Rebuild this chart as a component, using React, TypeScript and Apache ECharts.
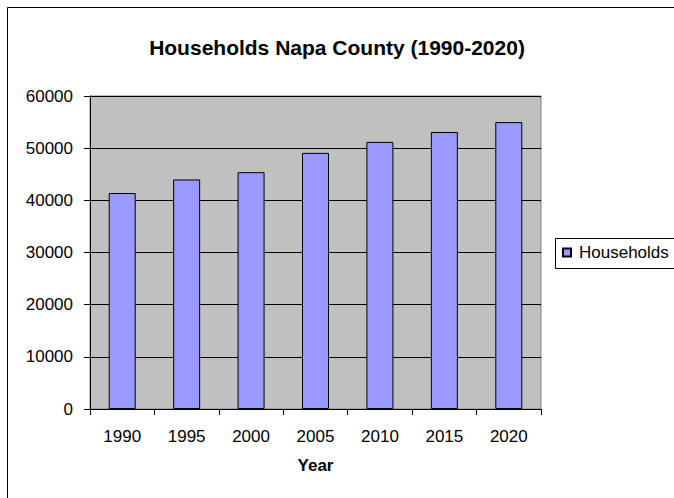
import React, { useEffect, useRef } from "react";
import * as echarts from "echarts";

const categories = ["1990", "1995", "2000", "2005", "2010", "2015", "2020"];
const households = [41400, 44000, 45400, 49100, 51200, 53100, 55000];
const seriesName = "Households";
const titleText = "Households Napa County (1990-2020)";
const xName = "Year";

export default function App() {
  const ref = useRef<HTMLDivElement>(null);
  useEffect(() => {
    document.body.style.margin = "0";
    const chart = echarts.init(ref.current!, null, { renderer: "svg" });
    const font = "'Liberation Sans', Arial, sans-serif";
    chart.setOption({
      animation: false,
      backgroundColor: "#ffffff",
      textStyle: { fontFamily: font },
      title: {
        text: titleText,
        left: "center",
        top: 32,
        textStyle: { fontSize: 21, fontWeight: "bold", color: "#000", fontFamily: font },
      },
      graphic: [
        {
          type: "rect",
          shape: { x: 7.5, y: 7.5, width: 720, height: 600 },
          style: { fill: "none", stroke: "#000", lineWidth: 1 },
          silent: true,
        },
        {
          type: "rect",
          shape: { x: 555.5, y: 238.5, width: 200, height: 30 },
          style: { fill: "none", stroke: "#000", lineWidth: 1 },
          silent: true,
        },
      ],
      legend: {
        left: 555,
        top: 238,
        orient: "vertical",
        borderWidth: 0,
        padding: [6, 0, 6, 7],
        itemWidth: 8,
        itemHeight: 8,
        itemGap: 4,
        icon: "rect",
        textStyle: { fontSize: 17, color: "#000", fontFamily: font, padding: [0, 0, 0, 3] },
        data: [seriesName],
      },
      grid: {
        left: 90,
        right: 133,
        top: 96,
        bottom: 89,
        show: true,
        backgroundColor: "#C0C0C0",
        borderColor: "#808080",
        borderWidth: 1,
      },
      xAxis: {
        type: "category",
        data: categories,
        name: xName,
        nameLocation: "middle",
        nameGap: 48,
        nameTextStyle: { fontSize: 17, fontWeight: "bold", color: "#000", fontFamily: font },
        axisLine: { show: true, lineStyle: { color: "#000", width: 1 } },
        axisTick: { show: true, alignWithLabel: false, length: 6, lineStyle: { color: "#000" } },
        axisLabel: { fontSize: 17, color: "#000", margin: 19, fontFamily: font },
        splitLine: { show: false },
      },
      yAxis: {
        type: "value",
        min: 0,
        max: 60000,
        interval: 10000,
        axisLine: { show: true, lineStyle: { color: "#000", width: 1 } },
        axisTick: { show: true, length: 6, lineStyle: { color: "#000" } },
        axisLabel: {
          fontSize: 17,
          color: "#000",
          margin: 17,
          fontFamily: font,
          formatter: (v: number) => String(v),
        },
        splitLine: { show: true, lineStyle: { color: "#000", width: 1 } },
      },
      series: [
        {
          name: seriesName,
          type: "bar",
          data: households,
          barWidth: 27,
          itemStyle: { color: "#9999FF", borderColor: "#000", borderWidth: 1 },
        },
      ],
    });
    return () => chart.dispose();
  }, []);
  return <div ref={ref} style={{ width: 674, height: 498 }} />;
}
